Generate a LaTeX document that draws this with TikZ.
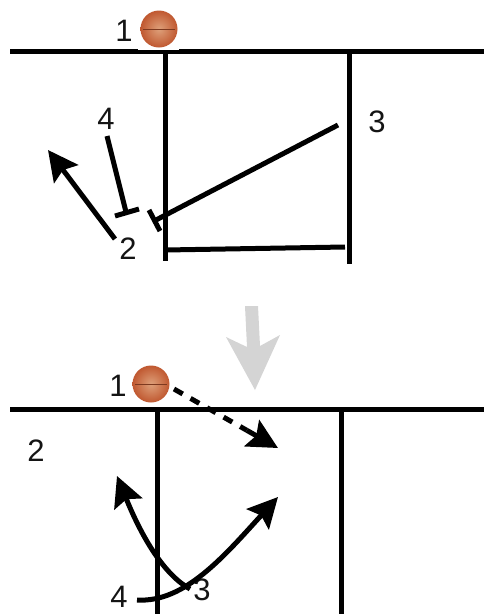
\documentclass[tikz,border=0pt]{standalone}
\usepackage{fontspec}
\setmainfont{Liberation Sans}
\usetikzlibrary{arrows.meta,calc}
\definecolor{ballA}{RGB}{222,160,122}
\definecolor{ballB}{RGB}{192,88,48}
\tikzset{
  court/.style={line width=5pt},
  lbl/.style={font=\fontsize{31}{33}\selectfont,inner sep=0pt,text=black!92},
  run/.style={line width=5pt,-{Stealth[length=30pt,width=30pt,inset=5pt]}},
  screen/.style={line width=5pt},
  graybig/.style={fill=black!17,draw=none},
  ballbox/.style={fill=white,draw=none,minimum size=41pt,inner sep=0pt},
  ball/.style={circle,minimum size=37pt,inner sep=0pt,inner color=ballA,outer color=ballB}
}
\newcommand{\ballseam}[1]{
  \draw[ballB!65!black,line width=1pt] ([xshift=-16pt]#1.center) -- ([xshift=16pt]#1.center);
}
\begin{document}
\begin{tikzpicture}[x=1pt,y=-1pt]
\useasboundingbox (0,0) rectangle (484,614);
% top court
\coordinate (tl) at (10,51); \coordinate (tr) at (484,51);
\coordinate (v1a) at (165,51); \coordinate (v1b) at (165,261);
\coordinate (v2a) at (349,51); \coordinate (v2b) at (349,264);
\coordinate (bb1) at (165,250); \coordinate (bb2) at (345,247);
\draw[court] (tl) -- (tr);
\draw[court] (v1a) -- (v1b);
\draw[court] (v2a) -- (v2b);
\draw[court] (bb1) -- (bb2);
\node[ballbox] (bxa) at (158,29) {};
\node[ball] (ba) at (159,29) {};
\ballseam{ba}
\node[lbl] (n1a) at (124,31) {1};
\node[lbl] (n4a) at (106,119) {4};
\node[lbl] (n2a) at (128,249) {2};
\node[lbl] (n3a) at (377,122) {3};
% screens
\coordinate (s3a) at (338,125); \coordinate (s3b) at (156,220);
\coordinate (c3a) at (149,210); \coordinate (c3b) at (160,231);
\draw[screen] (s3a) -- (s3b);
\draw[screen] (c3a) -- (c3b);
\coordinate (s4a) at (107,136); \coordinate (s4b) at (126,212);
\coordinate (c4a) at (115,216); \coordinate (c4b) at (139,209);
\draw[screen] (s4a) -- (s4b);
\draw[screen] (c4a) -- (c4b);
\coordinate (r2a) at (115,239); \coordinate (r2b) at (48,150);
\draw[run] (r2a) -- (r2b);
% gray arrow
\fill[graybig] (245,306) -- (258,306) -- (260,346) -- (280,335) -- (255,390) -- (226,337) -- (247,347) -- cycle;
% bottom court
\coordinate (bl) at (10,409); \coordinate (br) at (484,409);
\coordinate (w1a) at (157,409); \coordinate (w1b) at (157,614);
\coordinate (w2a) at (341,409); \coordinate (w2b) at (341,614);
\draw[court] (bl) -- (br);
\draw[court] (w1a) -- (w1b);
\draw[court] (w2a) -- (w2b);
\node[ballbox] (bxb) at (151,384) {};
\node[ball] (bb) at (151,384) {};
\ballseam{bb}
\node[lbl] (n1b) at (118,386) {1};
\node[lbl] (n2b) at (36,451) {2};
\node[lbl] (n3b) at (202,590) {3};
\node[lbl] (n4b) at (119,597) {4};
\coordinate (pa) at (174,389); \coordinate (pb) at (278,448);
\coordinate (pm) at ($(pa)!0.70!(pb)$);
\draw[screen,dash pattern=on 10pt off 9pt] (pa) -- (pm);
\draw[run] (pm) -- (pb);
\coordinate (ra) at (190,589); \coordinate (rb) at (117,476);
\draw[run] (ra) .. controls (165,575) and (143,540) .. (rb);
\coordinate (qa) at (137,600); \coordinate (qb) at (278,497);
\draw[run] (qa) .. controls (185,603) and (225,555) .. (qb);
\end{tikzpicture}
\end{document}
